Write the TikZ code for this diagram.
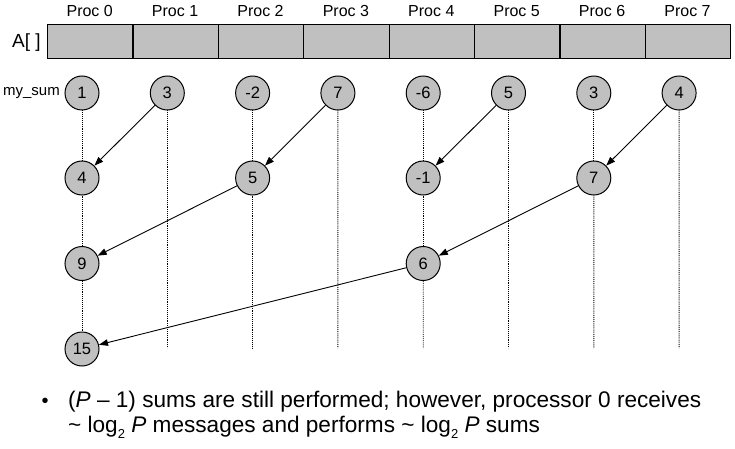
\documentclass[tikz,border=0pt]{standalone}
\usepackage{fontspec}
\setmainfont{Liberation Sans}
\usetikzlibrary{arrows.meta}
\definecolor{cellgray}{HTML}{C0C0C0}
\begin{document}
\begin{tikzpicture}[x=1pt,y=-1pt,
  cell/.style={draw,fill=cellgray,line width=1.1pt,minimum width=85.4pt,minimum height=34pt,inner sep=0pt,anchor=north west},
  val/.style={circle,draw,fill=cellgray,line width=1pt,minimum size=34pt,inner sep=0pt,font=\fontsize{16.5}{18}\selectfont},
  proclbl/.style={font=\fontsize{16}{18}\selectfont,anchor=base,inner sep=0pt},
  vline/.style={densely dotted,line width=0.9pt},
  msg/.style={-{Triangle[length=9pt,width=6.5pt]},line width=0.9pt},
  bodytext/.style={font=\fontsize{22.6}{26}\selectfont,anchor=base west,inner sep=0pt}]
\useasboundingbox (0,0) rectangle (735,449);
% array cells
\foreach \i in {0,...,7} {
  \node[cell] (c\i) at ({47+85.4*\i},24) {};
  \node[proclbl] (p\i) at ({89.7+85.4*\i},17) {Proc \i};
}
\node[font=\fontsize{19}{21}\selectfont,anchor=base,inner sep=0pt] (alab) at (26.5,48) {A[ ]};
\node[font=\fontsize{15}{17}\selectfont,anchor=base,inner sep=0pt] (mlab) at (31.5,96) {my\_sum};
% bottom coordinates
\foreach \i in {0,...,7} {
  \coordinate (b\i) at ({82+85.3*\i},348);
}
% row 0
\node[val] (r0n0) at (82,93) {1};
\node[val] (r0n1) at (167.3,93) {3};
\node[val] (r0n2) at (252.6,93) {-2};
\node[val] (r0n3) at (337.9,93) {7};
\node[val] (r0n4) at (423.2,93) {-6};
\node[val] (r0n5) at (508.5,93) {5};
\node[val] (r0n6) at (593.8,93) {3};
\node[val] (r0n7) at (679.1,93) {4};
% row 1
\node[val] (r1n0) at (82,178) {4};
\node[val] (r1n2) at (252.6,178) {5};
\node[val] (r1n4) at (423.2,178) {-1};
\node[val] (r1n6) at (593.8,178) {7};
% row 2
\node[val] (r2n0) at (82,263.5) {9};
\node[val] (r2n4) at (423.2,263.5) {6};
% row 3
\node[val] (r3n0) at (82,349) {15};
% dotted lines
\draw[vline] (r0n0) -- (r1n0);
\draw[vline] (r1n0) -- (r2n0);
\draw[vline] (r2n0) -- (r3n0);
\draw[vline] (r0n1) -- (b1);
\draw[vline] (r0n2) -- (r1n2);
\draw[vline] (r1n2) -- (b2);
\draw[vline] (r0n3) -- (b3);
\draw[vline] (r0n4) -- (r1n4);
\draw[vline] (r1n4) -- (r2n4);
\draw[vline] (r2n4) -- (b4);
\draw[vline] (r0n5) -- (b5);
\draw[vline] (r0n6) -- (r1n6);
\draw[vline] (r1n6) -- (b6);
\draw[vline] (r0n7) -- (b7);
% messages
\draw[msg] (r0n1) -- (r1n0);
\draw[msg] (r0n3) -- (r1n2);
\draw[msg] (r0n5) -- (r1n4);
\draw[msg] (r0n7) -- (r1n6);
\draw[msg] (r1n2) -- (r2n0);
\draw[msg] (r1n6) -- (r2n4);
\draw[msg] (r2n4) -- (r3n0);
% bullet text
\node[font=\fontsize{20}{24}\selectfont,anchor=base,inner sep=0pt] (bul) at (45,407) {•};
\node[bodytext] (txt1) at (68,407)
  {(\textit{P} – 1) sums are still performed; however, processor 0 receives};
\node[bodytext] (txt2) at (68,432)
  {\textasciitilde\ log\raisebox{-6pt}{\fontsize{13}{15}\selectfont 2} \textit{P} messages and performs \textasciitilde\ log\raisebox{-6pt}{\fontsize{13}{15}\selectfont 2} \textit{P} sums};
\end{tikzpicture}
\end{document}
